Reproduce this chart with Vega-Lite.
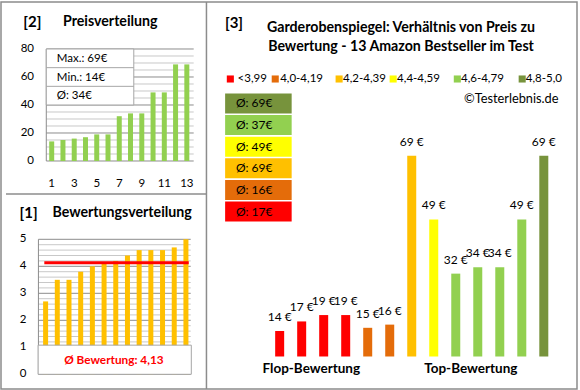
{
"$schema":"https://vega.github.io/schema/vega-lite/v6.json",
"background":"white",
"width":576,"height":387,
"padding":{"left":1,"top":1,"right":3,"bottom":2},
"config":{
 "view":{"stroke":"#8c8c8c","strokeWidth":1.5},
 "font":"Lato",
 "text":{"font":"Lato","color":"#000000"}
},
"datasets":{
 "products":[
  {"r_rank":1,"p_rank":1,"price":14,"rating":2.7,"cat":"<3,99","label":"14 €"},
  {"r_rank":2,"p_rank":4,"price":17,"rating":3.5,"cat":"<3,99","label":"17 €"},
  {"r_rank":3,"p_rank":5,"price":19,"rating":3.5,"cat":"<3,99","label":"19 €"},
  {"r_rank":4,"p_rank":6,"price":19,"rating":3.8,"cat":"<3,99","label":"19 €"},
  {"r_rank":5,"p_rank":2,"price":15,"rating":4.0,"cat":"4,0-4,19","label":"15 €"},
  {"r_rank":6,"p_rank":3,"price":16,"rating":4.1,"cat":"4,0-4,19","label":"16 €"},
  {"r_rank":7,"p_rank":12,"price":69,"rating":4.2,"cat":"4,2-4,39","label":"69 €"},
  {"r_rank":8,"p_rank":10,"price":49,"rating":4.4,"cat":"4,4-4,59","label":"49 €"},
  {"r_rank":9,"p_rank":7,"price":32,"rating":4.6,"cat":"4,6-4,79","label":"32 €"},
  {"r_rank":10,"p_rank":8,"price":34,"rating":4.6,"cat":"4,6-4,79","label":"34 €"},
  {"r_rank":11,"p_rank":9,"price":34,"rating":4.6,"cat":"4,6-4,79","label":"34 €"},
  {"r_rank":12,"p_rank":11,"price":49,"rating":4.7,"cat":"4,6-4,79","label":"49 €"},
  {"r_rank":13,"p_rank":13,"price":69,"rating":5.0,"cat":"4,8-5,0","label":"69 €"}
 ],
 "averages":[
  {"slot":1,"cat":"4,8-5,0","avg":"Ø: 69€"},
  {"slot":2,"cat":"4,6-4,79","avg":"Ø: 37€"},
  {"slot":3,"cat":"4,4-4,59","avg":"Ø: 49€"},
  {"slot":4,"cat":"4,2-4,39","avg":"Ø: 69€"},
  {"slot":5,"cat":"4,0-4,19","avg":"Ø: 16€"},
  {"slot":6,"cat":"<3,99","avg":"Ø: 17€"}
 ],
 "grid2":[{"v":0},{"v":5},{"v":10},{"v":15},{"v":20},{"v":25},{"v":30},{"v":35},{"v":40},{"v":45},{"v":50},{"v":55},{"v":60},{"v":65},{"v":70},{"v":75},{"v":80}],
 "grid1":[{"v":0},{"v":0.2},{"v":0.4},{"v":0.6},{"v":0.8},{"v":1},{"v":1.2},{"v":1.4},{"v":1.6},{"v":1.8},{"v":2},{"v":2.2},{"v":2.4},{"v":2.6},{"v":2.8},{"v":3},{"v":3.2},{"v":3.4},{"v":3.6},{"v":3.8},{"v":4},{"v":4.2},{"v":4.4},{"v":4.6},{"v":4.8},{"v":5}]
},
"resolve":{"scale":{"x":"independent","y":"independent"}},
"layer":[
 {"layer":[
    {"data":{"name":"grid2"},"transform":[{"filter":"datum.v % 20 != 0"}],"mark":{"type":"rule","color":"#c8c8c8","strokeWidth":1},
     "encoding":{
      "y":{"field":"v","type":"quantitative","scale":{"domain":[-162.857,113.571],"nice":false,"zero":false},"axis":null},
      "x":{"datum":0.52,"type":"quantitative","scale":{"domain":[-3.058,47.204],"nice":false,"zero":false},"axis":null},
      "x2":{"datum":13.61}}},
    {"data":{"name":"grid2"},"transform":[{"filter":"datum.v % 20 == 0"}],"mark":{"type":"rule","color":"#8c8c8c","strokeWidth":1},
     "encoding":{
      "y":{"field":"v","type":"quantitative","scale":{"domain":[-162.857,113.571],"nice":false,"zero":false},"axis":null},
      "x":{"datum":0.52,"type":"quantitative","scale":{"domain":[-3.058,47.204],"nice":false,"zero":false},"axis":null},
      "x2":{"datum":13.61}}},
    {"data":{"name":"grid2"},"transform":[{"filter":"datum.v % 20 == 0"}],"mark":{"type":"text","align":"right","baseline":"middle","fontSize":11.5},
     "encoding":{
      "y":{"field":"v","type":"quantitative","scale":{"domain":[-162.857,113.571],"nice":false,"zero":false},"axis":null},
      "x":{"datum":-0.571,"type":"quantitative","scale":{"domain":[-3.058,47.204],"nice":false,"zero":false},"axis":null},
      "text":{"field":"v","type":"quantitative"}}},
    {"data":{"values":[{}]},"mark":{"type":"rule","color":"#8c8c8c","strokeWidth":1},
     "encoding":{
      "x":{"datum":0.52,"type":"quantitative","scale":{"domain":[-3.058,47.204],"nice":false,"zero":false},"axis":null},
      "y":{"datum":0,"type":"quantitative","scale":{"domain":[-162.857,113.571],"nice":false,"zero":false},"axis":null},
      "y2":{"datum":80}}},
    {"data":{"values":[{}]},"mark":{"type":"rule","color":"#8c8c8c","strokeWidth":1.5},
     "encoding":{
      "x":{"datum":-3.058,"type":"quantitative","scale":{"domain":[-3.058,47.204],"nice":false,"zero":false},"axis":null},
      "x2":{"datum":14.743},
      "y":{"datum":-23.571,"type":"quantitative","scale":{"domain":[-162.857,113.571],"nice":false,"zero":false},"axis":null}}},
    {"data":{"name":"products"},"mark":{"type":"bar","color":"#92D050","size":5},
     "encoding":{
      "x":{"field":"p_rank","type":"quantitative","scale":{"domain":[-3.058,47.204],"nice":false,"zero":false},"axis":null},
      "y":{"field":"price","type":"quantitative","scale":{"domain":[-162.857,113.571],"nice":false,"zero":false},"axis":null}}},
    {"data":{"name":"products"},"transform":[{"filter":"datum.p_rank % 2 == 1"}],"mark":{"type":"text","align":"center","baseline":"middle","fontSize":11.5},
     "encoding":{
      "x":{"field":"p_rank","type":"quantitative","scale":{"domain":[-3.058,47.204],"nice":false,"zero":false},"axis":null},
      "y":{"datum":-16.21,"type":"quantitative","scale":{"domain":[-162.857,113.571],"nice":false,"zero":false},"axis":null},
      "text":{"field":"p_rank","type":"quantitative"}}},
    {"data":{"values":[{}]},"mark":{"type":"rect","fill":"white","stroke":"#a6a6a6","strokeWidth":1},
     "encoding":{
      "x":{"datum":0.52,"type":"quantitative","scale":{"domain":[-3.058,47.204],"nice":false,"zero":false},"axis":null},
      "x2":{"datum":8.29},
      "y":{"datum":40,"type":"quantitative","scale":{"domain":[-162.857,113.571],"nice":false,"zero":false},"axis":null},
      "y2":{"datum":80}}},
    {"data":{"values":[{}]},"mark":{"type":"rule","color":"#a6a6a6","strokeWidth":1},
     "encoding":{
      "x":{"datum":0.52,"type":"quantitative","scale":{"domain":[-3.058,47.204],"nice":false,"zero":false},"axis":null},
      "x2":{"datum":8.29},
      "y":{"datum":53.33,"type":"quantitative","scale":{"domain":[-162.857,113.571],"nice":false,"zero":false},"axis":null}}},
    {"data":{"values":[{}]},"mark":{"type":"rule","color":"#a6a6a6","strokeWidth":1},
     "encoding":{
      "x":{"datum":0.52,"type":"quantitative","scale":{"domain":[-3.058,47.204],"nice":false,"zero":false},"axis":null},
      "x2":{"datum":8.29},
      "y":{"datum":66.67,"type":"quantitative","scale":{"domain":[-162.857,113.571],"nice":false,"zero":false},"axis":null}}},
    {"data":{"values":[{}]},"mark":{"type":"text","text":"Max.: 69€","align":"left","baseline":"middle","fontSize":11.5},
     "encoding":{
      "x":{"datum":1.454,"type":"quantitative","scale":{"domain":[-3.058,47.204],"nice":false,"zero":false},"axis":null},
      "y":{"datum":72.5,"type":"quantitative","scale":{"domain":[-162.857,113.571],"nice":false,"zero":false},"axis":null}}},
    {"data":{"values":[{}]},"mark":{"type":"text","text":"Min.: 14€","align":"left","baseline":"middle","fontSize":11.5},
     "encoding":{
      "x":{"datum":1.454,"type":"quantitative","scale":{"domain":[-3.058,47.204],"nice":false,"zero":false},"axis":null},
      "y":{"datum":59.2,"type":"quantitative","scale":{"domain":[-162.857,113.571],"nice":false,"zero":false},"axis":null}}},
    {"data":{"values":[{}]},"mark":{"type":"text","text":"Ø: 34€","align":"left","baseline":"middle","fontSize":11.5},
     "encoding":{
      "x":{"datum":1.454,"type":"quantitative","scale":{"domain":[-3.058,47.204],"nice":false,"zero":false},"axis":null},
      "y":{"datum":46.5,"type":"quantitative","scale":{"domain":[-162.857,113.571],"nice":false,"zero":false},"axis":null}}},
    {"data":{"values":[{}]},"mark":{"type":"text","text":"[2]","align":"center","baseline":"middle","fontSize":15,"fontWeight":"bold"},
     "encoding":{
      "x":{"datum":-0.719,"type":"quantitative","scale":{"domain":[-3.058,47.204],"nice":false,"zero":false},"axis":null},
      "y":{"datum":99.5,"type":"quantitative","scale":{"domain":[-162.857,113.571],"nice":false,"zero":false},"axis":null}}},
    {"data":{"values":[{}]},"mark":{"type":"text","text":"Preisverteilung","align":"left","baseline":"middle","fontSize":14.2,"fontWeight":"bold"},
     "encoding":{
      "x":{"datum":2.0,"type":"quantitative","scale":{"domain":[-3.058,47.204],"nice":false,"zero":false},"axis":null},
      "y":{"datum":99.5,"type":"quantitative","scale":{"domain":[-162.857,113.571],"nice":false,"zero":false},"axis":null}}}
 ]},
 {"layer":[
    {"data":{"name":"grid1"},"transform":[{"filter":"datum.v % 1 != 0"}],"mark":{"type":"rule","color":"#c8c8c8","strokeWidth":1},
     "encoding":{
      "y":{"field":"v","type":"quantitative","scale":{"domain":[-0.544,13.789],"nice":false,"zero":false},"axis":null},
      "x":{"datum":0.387,"type":"quantitative","scale":{"domain":[-2.387,46.017],"nice":false,"zero":false},"axis":null},
      "x2":{"datum":13.41}}},
    {"data":{"name":"grid1"},"transform":[{"filter":"datum.v % 1 == 0"}],"mark":{"type":"rule","color":"#8c8c8c","strokeWidth":1},
     "encoding":{
      "y":{"field":"v","type":"quantitative","scale":{"domain":[-0.544,13.789],"nice":false,"zero":false},"axis":null},
      "x":{"datum":0.387,"type":"quantitative","scale":{"domain":[-2.387,46.017],"nice":false,"zero":false},"axis":null},
      "x2":{"datum":13.41}}},
    {"data":{"name":"grid1"},"transform":[{"filter":"datum.v % 1 == 0"}],"mark":{"type":"text","align":"right","baseline":"middle","fontSize":11.5},
     "encoding":{
      "y":{"field":"v","type":"quantitative","scale":{"domain":[-0.544,13.789],"nice":false,"zero":false},"axis":null},
      "x":{"datum":-0.647,"type":"quantitative","scale":{"domain":[-2.387,46.017],"nice":false,"zero":false},"axis":null},
      "text":{"field":"v","type":"quantitative"}}},
    {"data":{"values":[{}]},"mark":{"type":"rule","color":"#8c8c8c","strokeWidth":1},
     "encoding":{
      "x":{"datum":0.387,"type":"quantitative","scale":{"domain":[-2.387,46.017],"nice":false,"zero":false},"axis":null},
      "y":{"datum":0,"type":"quantitative","scale":{"domain":[-0.544,13.789],"nice":false,"zero":false},"axis":null},
      "y2":{"datum":5}}},
    {"data":{"name":"products"},"mark":{"type":"bar","color":"#FFC000","size":5},
     "encoding":{
      "x":{"field":"r_rank","type":"quantitative","scale":{"domain":[-2.387,46.017],"nice":false,"zero":false},"axis":null},
      "y":{"field":"rating","type":"quantitative","scale":{"domain":[-0.544,13.789],"nice":false,"zero":false},"axis":null}}},
    {"data":{"name":"products"},"mark":{"type":"rule","color":"#FF0000","strokeWidth":3},
     "encoding":{
      "x":{"datum":0.89,"type":"quantitative","scale":{"domain":[-2.387,46.017],"nice":false,"zero":false},"axis":null},
      "x2":{"datum":13.24},
      "y":{"aggregate":"mean","field":"rating","type":"quantitative","scale":{"domain":[-0.544,13.789],"nice":false,"zero":false},"axis":null}}},
    {"data":{"values":[{}]},"mark":{"type":"rect","fill":"white","stroke":"#a6a6a6","strokeWidth":1},
     "encoding":{
      "x":{"datum":0.36,"type":"quantitative","scale":{"domain":[-2.387,46.017],"nice":false,"zero":false},"axis":null},
      "x2":{"datum":13.46},
      "y":{"datum":0,"type":"quantitative","scale":{"domain":[-0.544,13.789],"nice":false,"zero":false},"axis":null},
      "y2":{"datum":1.08}}},
    {"data":{"values":[{}]},"mark":{"type":"text","text":"Ø Bewertung: 4,13","align":"center","baseline":"middle","fontSize":11.8,"fontWeight":"bold","color":"#FF0000"},
     "encoding":{
      "x":{"datum":6.84,"type":"quantitative","scale":{"domain":[-2.387,46.017],"nice":false,"zero":false},"axis":null},
      "y":{"datum":0.52,"type":"quantitative","scale":{"domain":[-0.544,13.789],"nice":false,"zero":false},"axis":null}}},
    {"data":{"values":[{}]},"mark":{"type":"text","text":"[1]","align":"center","baseline":"middle","fontSize":15,"fontWeight":"bold"},
     "encoding":{
      "x":{"datum":-0.454,"type":"quantitative","scale":{"domain":[-2.387,46.017],"nice":false,"zero":false},"axis":null},
      "y":{"datum":5.985,"type":"quantitative","scale":{"domain":[-0.544,13.789],"nice":false,"zero":false},"axis":null}}},
    {"data":{"values":[{}]},"mark":{"type":"text","text":"Bewertungsverteilung","align":"left","baseline":"middle","fontSize":14.2,"fontWeight":"bold"},
     "encoding":{
      "x":{"datum":1.588,"type":"quantitative","scale":{"domain":[-2.387,46.017],"nice":false,"zero":false},"axis":null},
      "y":{"datum":5.985,"type":"quantitative","scale":{"domain":[-0.544,13.789],"nice":false,"zero":false},"axis":null}}}
 ]},
 {"resolve":{"scale":{"y":"independent"}},
  "layer":[
   {"layer":[
    {"data":{"values":[{}]},"mark":{"type":"rule","color":"#8c8c8c","strokeWidth":1.5},
     "encoding":{
      "x":{"datum":-2.326,"type":"quantitative","scale":{"domain":[-11.433,14.281],"nice":false,"zero":false},"axis":null},
      "y":{"datum":-4.2,"type":"quantitative","scale":{"domain":[-4.2,117.23],"nice":false,"zero":false},"axis":null},
      "y2":{"datum":117.23}}},
    {"data":{"name":"products"},"mark":{"type":"bar","size":9},
     "encoding":{
      "x":{"field":"r_rank","type":"quantitative","scale":{"domain":[-11.433,14.281],"nice":false,"zero":false},"axis":null},
      "y":{"field":"price","type":"quantitative","scale":{"domain":[-4.2,117.23],"nice":false,"zero":false},"axis":null},
      "y2":{"datum":6},
      "color":{"field":"cat","type":"nominal","scale":{"domain":["<3,99","4,0-4,19","4,2-4,39","4,4-4,59","4,6-4,79","4,8-5,0"],"range":["#FF0000","#E46C0A","#FFC000","#FFFF00","#92D050","#77933C"]},"legend":null}}},
    {"data":{"name":"products"},"mark":{"type":"text","dy":-14,"fontSize":12,"baseline":"middle"},
     "encoding":{
      "x":{"field":"r_rank","type":"quantitative","scale":{"domain":[-11.433,14.281],"nice":false,"zero":false},"axis":null},
      "y":{"field":"price","type":"quantitative","scale":{"domain":[-4.2,117.23],"nice":false,"zero":false},"axis":null},
      "text":{"field":"label"}}},
    {"data":{"values":[{}]},"mark":{"type":"square","size":50,"filled":true,"opacity":1},
     "encoding":{
      "x":{"datum":-1.241,"type":"quantitative","scale":{"domain":[-11.433,14.281],"nice":false,"zero":false},"axis":null},
      "y":{"datum":93.07,"type":"quantitative","scale":{"domain":[-4.2,117.23],"nice":false,"zero":false},"axis":null},
      "color":{"datum":"<3,99","type":"nominal","legend":null}}},
    {"data":{"values":[{}]},"mark":{"type":"text","text":"<3,99","align":"left","baseline":"middle","fontSize":11.5},
     "encoding":{
      "x":{"datum":-0.911,"type":"quantitative","scale":{"domain":[-11.433,14.281],"nice":false,"zero":false},"axis":null},
      "y":{"datum":93.07,"type":"quantitative","scale":{"domain":[-4.2,117.23],"nice":false,"zero":false},"axis":null}}},
    {"data":{"values":[{}]},"mark":{"type":"square","size":50,"filled":true,"opacity":1},
     "encoding":{
      "x":{"datum":0.799,"type":"quantitative","scale":{"domain":[-11.433,14.281],"nice":false,"zero":false},"axis":null},
      "y":{"datum":93.07,"type":"quantitative","scale":{"domain":[-4.2,117.23],"nice":false,"zero":false},"axis":null},
      "color":{"datum":"4,0-4,19","type":"nominal","legend":null}}},
    {"data":{"values":[{}]},"mark":{"type":"text","text":"4,0-4,19","align":"left","baseline":"middle","fontSize":11.5},
     "encoding":{
      "x":{"datum":1.022,"type":"quantitative","scale":{"domain":[-11.433,14.281],"nice":false,"zero":false},"axis":null},
      "y":{"datum":93.07,"type":"quantitative","scale":{"domain":[-4.2,117.23],"nice":false,"zero":false},"axis":null}}},
    {"data":{"values":[{}]},"mark":{"type":"square","size":50,"filled":true,"opacity":1},
     "encoding":{
      "x":{"datum":3.701,"type":"quantitative","scale":{"domain":[-11.433,14.281],"nice":false,"zero":false},"axis":null},
      "y":{"datum":93.07,"type":"quantitative","scale":{"domain":[-4.2,117.23],"nice":false,"zero":false},"axis":null},
      "color":{"datum":"4,2-4,39","type":"nominal","legend":null}}},
    {"data":{"values":[{}]},"mark":{"type":"text","text":"4,2-4,39","align":"left","baseline":"middle","fontSize":11.5},
     "encoding":{
      "x":{"datum":3.879,"type":"quantitative","scale":{"domain":[-11.433,14.281],"nice":false,"zero":false},"axis":null},
      "y":{"datum":93.07,"type":"quantitative","scale":{"domain":[-4.2,117.23],"nice":false,"zero":false},"axis":null}}},
    {"data":{"values":[{}]},"mark":{"type":"square","size":50,"filled":true,"opacity":1},
     "encoding":{
      "x":{"datum":6.156,"type":"quantitative","scale":{"domain":[-11.433,14.281],"nice":false,"zero":false},"axis":null},
      "y":{"datum":93.07,"type":"quantitative","scale":{"domain":[-4.2,117.23],"nice":false,"zero":false},"axis":null},
      "color":{"datum":"4,4-4,59","type":"nominal","legend":null}}},
    {"data":{"values":[{}]},"mark":{"type":"text","text":"4,4-4,59","align":"left","baseline":"middle","fontSize":11.5},
     "encoding":{
      "x":{"datum":6.335,"type":"quantitative","scale":{"domain":[-11.433,14.281],"nice":false,"zero":false},"axis":null},
      "y":{"datum":93.07,"type":"quantitative","scale":{"domain":[-4.2,117.23],"nice":false,"zero":false},"axis":null}}},
    {"data":{"values":[{}]},"mark":{"type":"square","size":50,"filled":true,"opacity":1},
     "encoding":{
      "x":{"datum":9.071,"type":"quantitative","scale":{"domain":[-11.433,14.281],"nice":false,"zero":false},"axis":null},
      "y":{"datum":93.07,"type":"quantitative","scale":{"domain":[-4.2,117.23],"nice":false,"zero":false},"axis":null},
      "color":{"datum":"4,6-4,79","type":"nominal","legend":null}}},
    {"data":{"values":[{}]},"mark":{"type":"text","text":"4,6-4,79","align":"left","baseline":"middle","fontSize":11.5},
     "encoding":{
      "x":{"datum":9.237,"type":"quantitative","scale":{"domain":[-11.433,14.281],"nice":false,"zero":false},"axis":null},
      "y":{"datum":93.07,"type":"quantitative","scale":{"domain":[-4.2,117.23],"nice":false,"zero":false},"axis":null}}},
    {"data":{"values":[{}]},"mark":{"type":"square","size":50,"filled":true,"opacity":1},
     "encoding":{
      "x":{"datum":12.018,"type":"quantitative","scale":{"domain":[-11.433,14.281],"nice":false,"zero":false},"axis":null},
      "y":{"datum":93.07,"type":"quantitative","scale":{"domain":[-4.2,117.23],"nice":false,"zero":false},"axis":null},
      "color":{"datum":"4,8-5,0","type":"nominal","legend":null}}},
    {"data":{"values":[{}]},"mark":{"type":"text","text":"4,8-5,0","align":"left","baseline":"middle","fontSize":11.5},
     "encoding":{
      "x":{"datum":12.183,"type":"quantitative","scale":{"domain":[-11.433,14.281],"nice":false,"zero":false},"axis":null},
      "y":{"datum":93.07,"type":"quantitative","scale":{"domain":[-4.2,117.23],"nice":false,"zero":false},"axis":null}}},
    {"data":{"values":[{}]},"mark":{"type":"text","text":"[3]","align":"center","baseline":"middle","fontSize":15,"fontWeight":"bold"},
     "encoding":{
      "x":{"datum":-1.076,"type":"quantitative","scale":{"domain":[-11.433,14.281],"nice":false,"zero":false},"axis":null},
      "y":{"datum":110.73,"type":"quantitative","scale":{"domain":[-4.2,117.23],"nice":false,"zero":false},"axis":null}}},
    {"data":{"values":[{}]},"mark":{"type":"text","text":"Garderobenspiegel: Verhältnis von Preis zu","align":"center","baseline":"middle","fontSize":14.2,"fontWeight":"bold"},
     "encoding":{
      "x":{"datum":6.513,"type":"quantitative","scale":{"domain":[-11.433,14.281],"nice":false,"zero":false},"axis":null},
      "y":{"datum":109.16,"type":"quantitative","scale":{"domain":[-4.2,117.23],"nice":false,"zero":false},"axis":null}}},
    {"data":{"values":[{}]},"mark":{"type":"text","text":"Bewertung - 13 Amazon Bestseller im Test","align":"center","baseline":"middle","fontSize":14.2,"fontWeight":"bold"},
     "encoding":{
      "x":{"datum":6.513,"type":"quantitative","scale":{"domain":[-11.433,14.281],"nice":false,"zero":false},"axis":null},
      "y":{"datum":103.1,"type":"quantitative","scale":{"domain":[-4.2,117.23],"nice":false,"zero":false},"axis":null}}},
    {"data":{"values":[{}]},"mark":{"type":"text","text":"©Testerlebnis.de","align":"right","baseline":"middle","fontSize":12.8},
     "encoding":{
      "x":{"datum":13.67,"type":"quantitative","scale":{"domain":[-11.433,14.281],"nice":false,"zero":false},"axis":null},
      "y":{"datum":86.7,"type":"quantitative","scale":{"domain":[-4.2,117.23],"nice":false,"zero":false},"axis":null}}},
    {"data":{"values":[{}]},"mark":{"type":"text","text":"Flop-Bewertung","align":"center","baseline":"middle","fontSize":13.5,"fontWeight":"bold"},
     "encoding":{
      "x":{"datum":2.4375,"type":"quantitative","scale":{"domain":[-11.433,14.281],"nice":false,"zero":false},"axis":null},
      "y":{"datum":1.98,"type":"quantitative","scale":{"domain":[-4.2,117.23],"nice":false,"zero":false},"axis":null}}},
    {"data":{"values":[{}]},"mark":{"type":"text","text":"Top-Bewertung","align":"center","baseline":"middle","fontSize":13.5,"fontWeight":"bold"},
     "encoding":{
      "x":{"datum":9.683,"type":"quantitative","scale":{"domain":[-11.433,14.281],"nice":false,"zero":false},"axis":null},
      "y":{"datum":1.98,"type":"quantitative","scale":{"domain":[-4.2,117.23],"nice":false,"zero":false},"axis":null}}}
   ]},
   {"data":{"name":"averages"},
    "layer":[
     {"mark":{"type":"bar","size":20},
      "encoding":{
       "y":{"field":"slot","type":"quantitative","scale":{"domain":[-3.459,13.973],"reverse":true,"nice":false,"zero":false},"axis":null},
       "x":{"datum":-1.478,"type":"quantitative","scale":{"domain":[-11.433,14.281],"nice":false,"zero":false},"axis":null},
       "x2":{"datum":1.545},
       "color":{"field":"cat","type":"nominal","legend":null}}},
     {"mark":{"type":"text","align":"left","baseline":"middle","fontSize":12},
      "encoding":{
       "y":{"field":"slot","type":"quantitative","scale":{"domain":[-3.459,13.973],"reverse":true,"nice":false,"zero":false},"axis":null},
       "x":{"datum":-0.987,"type":"quantitative","scale":{"domain":[-11.433,14.281],"nice":false,"zero":false},"axis":null},
       "text":{"field":"avg"}}}
    ]}
  ]}
]
}
